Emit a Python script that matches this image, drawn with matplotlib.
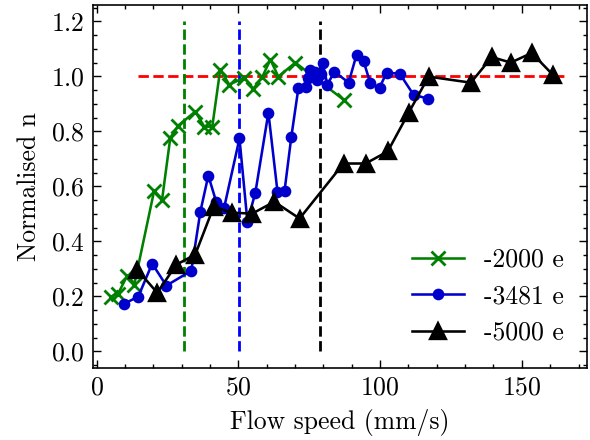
import numpy as np
import matplotlib.pyplot as plt

# -----------------------------
# Data
# -----------------------------

speed_2000 = [5.1, 7.6, 10.8, 13.3, 20.3, 23.1, 26.0, 28.8, 34.8, 38.0,
              40.8, 43.6, 46.8, 52.1, 55.3, 58.5, 61.3, 64.1, 70.1, 87.1]
n_2000 = [0.199, 0.21, 0.275, 0.243, 0.584, 0.552, 0.777, 0.821, 0.872, 0.817,
          0.817, 1.024, 0.97, 0.995, 0.955, 0.999, 1.061, 0.999, 1.05, 0.915]

speed_3481 = [9.7, 14.7, 19.6, 24.6, 33.4, 36.6, 39.4, 42.2, 45.0, 50.4,
              53.2, 56.0, 60.6, 63.8, 66.3, 68.7, 71.2, 73.7, 74.7, 75.4,
              76.9, 77.9, 79.0, 79.7, 81.4, 83.9, 88.9, 91.7, 94.2, 96.6,
              99.8, 102.3, 106.9, 111.8, 116.8]
n_3481 = [0.173, 0.199, 0.319, 0.239, 0.293, 0.508, 0.639, 0.544, 0.523, 0.774,
          0.472, 0.577, 0.868, 0.581, 0.584, 0.781, 0.959, 0.963, 0.995, 1.024,
          1.017, 0.988, 1.01, 1.05, 0.97, 1.017, 0.977, 1.079, 1.054, 0.974,
          0.959, 1.013, 1.01, 0.933, 0.919]

speed_5000 = [14.3, 21.4, 28.1, 34.8, 41.3, 47.7, 54.9, 62.7, 71.6, 87.1,
              94.9, 102.7, 110.1, 117.1, 132.0, 139.4, 146.1, 153.5, 160.9]
n_5000 = [0.297, 0.213, 0.315, 0.352, 0.526, 0.504, 0.501, 0.544, 0.483, 0.683,
          0.683, 0.727, 0.868, 0.999, 0.977, 1.07, 1.05, 1.085, 1.006]

# critical speeds (vertical markers) and reference level
crit_speeds = [31.0, 50.1, 78.8]
crit_colors = ["green", "blue", "black"]
ref_level = 1.0
ref_span = [14.5, 165.0]

# -----------------------------
# Style
# -----------------------------

plt.rcParams.update({
    "font.family": "serif",
    "font.serif": ["cmr10"],
    "axes.formatter.use_mathtext": True,
    "mathtext.fontset": "cm",
    "font.size": 11,
    "axes.linewidth": 0.7,
    "xtick.direction": "in",
    "ytick.direction": "in",
    "xtick.top": True,
    "ytick.right": True,
    "xtick.major.size": 3.5,
    "ytick.major.size": 3.5,
    "xtick.minor.size": 1.7,
    "ytick.minor.size": 1.7,
    "xtick.major.width": 0.6,
    "ytick.major.width": 0.6,
    "xtick.minor.width": 0.6,
    "ytick.minor.width": 0.6,
    "xtick.minor.visible": True,
    "ytick.minor.visible": True,
})

fig = plt.figure(figsize=(590 / 168, 440 / 168), dpi=168)
ax = fig.add_axes([0.157, 0.164, 0.838, 0.825])

# -----------------------------
# Plot
# -----------------------------

ax.hlines(ref_level, ref_span[0], ref_span[1], colors="red",
          linestyles="--", linewidth=1.2, zorder=1)
for xc, c in zip(crit_speeds, crit_colors):
    ax.vlines(xc, 0, 1.2, colors=c, linestyles="--", linewidth=1.2, zorder=1)

ax.plot(speed_2000, n_2000, color="green", marker="x", markersize=6,
        markeredgewidth=1.2, linewidth=1.1, label="-2000 e")
ax.plot(speed_3481, n_3481, color="mediumblue", marker="o", markersize=4,
        linewidth=1.1, label="-3481 e")
ax.plot(speed_5000, n_5000, color="black", marker="^", markersize=6.5,
        linewidth=1.1, label="-5000 e")

ax.set_xlim(-1.4, 173)
ax.set_ylim(-0.06, 1.26)
ax.set_xticks([0, 50, 100, 150])
ax.set_yticks([0.0, 0.2, 0.4, 0.6, 0.8, 1.0, 1.2])
ax.xaxis.set_minor_locator(plt.MultipleLocator(10))
ax.yaxis.set_minor_locator(plt.MultipleLocator(0.05))

ax.set_xlabel("Flow speed (mm/s)")
ax.set_ylabel("Normalised n")

ax.legend(loc="lower right", frameon=False, numpoints=1)

fig.savefig("out.png", dpi=168)
